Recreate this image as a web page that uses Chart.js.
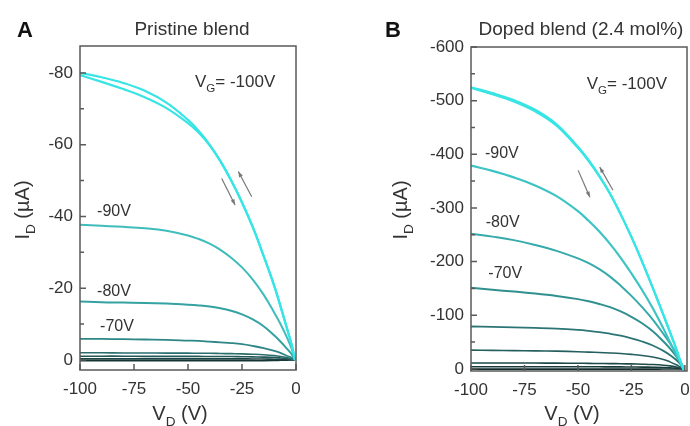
<!DOCTYPE html>
<html>
<head>
<meta charset="utf-8">
<script src="https://cdn.jsdelivr.net/npm/chart.js@4.4.1/dist/chart.umd.min.js"></script>
<style>
  body { margin: 0; background: #fff; }
  #wrap { position: relative; width: 690px; height: 426px; overflow: hidden; }
  #wrap canvas { position: absolute; top: 0; }
</style>
</head>
<body>
<div id="wrap">
  <canvas id="chartA" width="345" height="426" style="left:0"></canvas>
  <canvas id="chartB" width="345" height="426" style="left:345px"></canvas>
</div>
<script>
// =======================
// DATA
// =======================
const vdGrid = [-100, -90, -80, -70, -60, -50, -45, -40, -35, -30, -25, -20, -15, -10, -7, -4, -2, -0.5];
const xTicks = [-100, -75, -50, -25, 0];
const xTickLabels = ["-100", "-75", "-50", "-25", "0"];

// A - pristine blend (uA)
const yTicksA = [-80, -60, -40, -20, 0];
const yTickLabelsA = ["-80", "-60", "-40", "-20", "0"];
const yMinorA = [-70, -50, -30, -10];
const idA100fwd = [-80, -78.8, -77.2, -75, -71.7, -66.9, -63.8, -60, -55.4, -50, -43.9, -37, -29, -20.5, -14.6, -8.4, -4.2, 0];
const idA100rev = [-79.4, -77.5, -75.5, -73.2, -70.2, -66, -63.3, -59.8, -55.4, -50, -43.9, -37, -29, -20.5, -14.6, -8.4, -4.2, 0];
const idA90 = [-37.7, -37.4, -37.1, -36.7, -36, -34.7, -33.7, -32.4, -30.7, -28.5, -25.8, -22.4, -18.2, -13.1, -9.8, -6, -3.1, 0];
const idA80 = [-16.3, -16.1, -16, -15.9, -15.7, -15.4, -15.2, -14.9, -14.4, -13.7, -12.7, -11.3, -9.4, -6.8, -5, -3, -1.6, 0];
const idA70 = [-5.9, -5.85, -5.8, -5.7, -5.6, -5.4, -5.3, -5.1, -4.9, -4.7, -4.4, -3.9, -3.3, -2.5, -1.9, -1.1, -0.6, 0];
const idA60 = [-2, -2, -1.95, -1.95, -1.9, -1.9, -1.85, -1.85, -1.8, -1.75, -1.7, -1.6, -1.45, -1.2, -0.95, -0.6, -0.3, 0];
const idA50 = [-1.05, -1.05, -1.05, -1, -1, -1, -1, -0.95, -0.95, -0.95, -0.9, -0.85, -0.8, -0.7, -0.55, -0.35, -0.2, 0];
const idA40 = [-0.3, -0.3, -0.3, -0.3, -0.3, -0.3, -0.3, -0.3, -0.3, -0.3, -0.3, -0.28, -0.25, -0.2, -0.15, -0.1, -0.05, 0];
const idA30 = [0.2, 0.2, 0.2, 0.2, 0.2, 0.2, 0.2, 0.2, 0.2, 0.2, 0.2, 0.2, 0.2, 0.15, 0.1, 0.05, 0, 0];

// B - doped blend 2.4 mol% (uA)
const yTicksB = [-600, -500, -400, -300, -200, -100, 0];
const yTickLabelsB = ["-600", "-500", "-400", "-300", "-200", "-100", "0"];
const yMinorB = [-550, -450, -350, -250, -150, -50];
const idB100fwd = [-525, -514, -501, -483, -456, -414, -389, -360, -327, -288, -246, -200, -151, -100, -69, -37, -13, 3];
const idB100rev = [-524, -512, -498.5, -480, -453.5, -412, -387.5, -359, -326.5, -288, -246, -200, -151, -100, -69, -37, -13, 3];
const idB90 = [-379, -369, -357, -342, -322, -294, -276, -256, -233, -207, -178, -147, -113, -75, -50, -26, -11, 0];
const idB80 = [-252, -246.5, -240, -231, -220, -206, -197, -186, -172, -155, -136, -115, -92, -65, -48, -29, -14, 0];
const idB70 = [-151, -147.5, -144, -140.5, -136, -130, -126, -121, -115, -107, -97, -85, -70, -51, -38, -23, -11, 0];
const idB60 = [-79, -78.3, -77.5, -76.4, -75, -72.6, -70.8, -68.5, -65.5, -61.8, -57, -51, -43.5, -33.5, -26, -16.5, -8.5, 0];
const idB50 = [-35, -34.5, -34, -33.5, -33, -32, -31.2, -30.5, -29.6, -28.5, -27, -25, -22, -17.5, -13, -7.5, -3, 0];
const idB40 = [-11, -11, -11, -10.8, -10.6, -10.4, -10.2, -10, -9.8, -9.5, -9.2, -8.7, -8, -6.8, -5.5, -3.5, -1.5, 0];
const idB30 = [-4, -4, -4, -4, -3.9, -3.9, -3.8, -3.8, -3.7, -3.6, -3.5, -3.3, -3, -2.6, -2.1, -1.3, -0.6, 0];
const idB20 = [0.5, 0.5, 0.5, 0.5, 0.5, 0.5, 0.5, 0.5, 0.5, 0.5, 0.5, 0.5, 0.5, 0.4, 0.3, 0.2, 0.1, 0];

const FONT = "'Liberation Sans', Arial, Helvetica, sans-serif";

// =======================
// HELPERS
// =======================
function serie(ids, color, width) {
  return {
    data: vdGrid.map((v, i) => ({ x: v, y: ids[i] })),
    borderColor: color,
    borderWidth: width,
    pointRadius: 0,
    fill: false,
    tension: 0.4
  };
}

// text with optional subscript parts: [[text, isSub], ...]
function richText(ctx, parts, x, y, size, align, weight) {
  const f = s => `${weight || "normal"} ${s}px ${FONT}`;
  let w = 0;
  parts.forEach(([t, sub]) => { ctx.font = f(sub ? size * 0.68 : size); w += ctx.measureText(t).width; });
  let cx = align === "center" ? x - w / 2 : x;
  parts.forEach(([t, sub]) => {
    ctx.font = f(sub ? size * 0.68 : size);
    ctx.fillText(t, cx, sub ? y + size * 0.3 : y);
    cx += ctx.measureText(t).width;
  });
}

function arrow(ctx, x1, y1, x2, y2) {
  const a = Math.atan2(y2 - y1, x2 - x1);
  ctx.beginPath();
  ctx.moveTo(x1, y1);
  ctx.lineTo(x2, y2);
  ctx.stroke();
  ctx.beginPath();
  ctx.moveTo(x2, y2);
  ctx.lineTo(x2 - 6 * Math.cos(a - 0.35), y2 - 6 * Math.sin(a - 0.35));
  ctx.lineTo(x2 - 6 * Math.cos(a + 0.35), y2 - 6 * Math.sin(a + 0.35));
  ctx.closePath();
  ctx.fill();
}

// frame, inward ticks, labels, arrows
const decor = {
  id: "decor",
  afterDraw(chart, args, o) {
    const { ctx, chartArea: a, scales: { x, y } } = chart;
    ctx.save();
    ctx.strokeStyle = "#5a5a5a";
    ctx.lineWidth = 1.5;
    ctx.strokeRect(a.left, a.top, a.right - a.left, a.bottom - a.top);

    ctx.beginPath();
    xTicks.forEach(v => { const p = x.getPixelForValue(v); ctx.moveTo(p, a.bottom); ctx.lineTo(p, a.bottom - 6); });
    o.yTicks.forEach(v => { const p = y.getPixelForValue(v); ctx.moveTo(a.left, p); ctx.lineTo(a.left + 6, p); });
    o.yMinor.forEach(v => { const p = y.getPixelForValue(v); ctx.moveTo(a.left, p); ctx.lineTo(a.left + 4, p); });
    ctx.stroke();

    ctx.fillStyle = "#333";
    ctx.textBaseline = "alphabetic";
    ctx.textAlign = "left";
    // curve labels
    o.notes.forEach(n => {
      richText(ctx, n.parts, x.getPixelForValue(n.vd), y.getPixelForValue(n.id), n.size, "left");
    });

    // sweep arrows
    ctx.strokeStyle = "#777";
    ctx.fillStyle = "#777";
    ctx.lineWidth = 1.2;
    o.arrows.forEach(([v1, i1, v2, i2]) => {
      arrow(ctx, x.getPixelForValue(v1), y.getPixelForValue(i1), x.getPixelForValue(v2), y.getPixelForValue(i2));
    });

    // titles
    ctx.fillStyle = "#111";
    richText(ctx, [[o.letter]], o.letterX, 37, 22, "left", "bold");
    ctx.fillStyle = "#333";
    richText(ctx, [[o.title]], o.titleX, 35, 19, "center");
    richText(ctx, [["V"], ["D", true], [" (V)"]], o.xTitleX, 420, 20, "center");
    ctx.translate(o.yTitleX, 210);
    ctx.rotate(-Math.PI / 2);
    richText(ctx, [["I"], ["D", true], [" (\u00b5A)"]], 0, 0, 20, "center");
    ctx.restore();
  }
};

function makePanel(id, p) {
  return new Chart(document.getElementById(id), {
    type: "line",
    data: { datasets: p.datasets },
    options: {
      responsive: false,
      animation: false,
      events: [],
      layout: { padding: p.padding },
      plugins: {
        legend: { display: false },
        tooltip: { enabled: false },
        decor: p.decor
      },
      scales: {
        x: {
          type: "linear",
          min: -100,
          max: p.xMax,
          afterBuildTicks: s => { s.ticks = xTicks.map(v => ({ value: v })); },
          afterFit: s => { s.height = p.xHeight; s.paddingLeft = 0; s.paddingRight = 0; },
          grid: { display: false, drawTicks: false },
          border: { display: false },
          ticks: { padding: 9, color: "#333", font: { family: FONT, size: 17 }, maxRotation: 0, callback: (v, i) => xTickLabels[i] }
        },
        y: {
          type: "linear",
          reverse: true,
          min: p.yMin,
          max: p.yMax,
          afterBuildTicks: s => { s.ticks = p.decor.yTicks.map(v => ({ value: v })); },
          afterFit: s => { s.width = p.yWidth; s.paddingTop = 0; s.paddingBottom = 0; },
          grid: { display: false, drawTicks: false },
          border: { display: false },
          ticks: { padding: 7, color: "#333", font: { family: FONT, size: 17 }, callback: (v, i) => p.yLabels[i] }
        }
      }
    },
    plugins: [decor]
  });
}

// =======================
// PANEL A
// =======================
makePanel("chartA", {
  padding: { left: 0, right: 49, top: 46, bottom: 0 },
  xMax: 0, xHeight: 56, yWidth: 80,
  yMin: -87.5, yMax: 2.8,
  yLabels: yTickLabelsA,
  datasets: [
    serie(idA100fwd, "#38e4e4", 2.2),
    serie(idA100rev, "#38e4e4", 2.2),
    serie(idA90, "#3fbcbc", 2),
    serie(idA80, "#35a2a2", 2),
    serie(idA70, "#2e8686", 1.8),
    serie(idA60, "#2a6e6e", 1.6),
    serie(idA50, "#235858", 1.6),
    serie(idA40, "#1c4444", 1.6),
    serie(idA30, "#163535", 1.6)
  ],
  decor: {
    yTicks: yTicksA, yMinor: yMinorA,
    letter: "A", letterX: 17,
    title: "Pristine blend", titleX: 192,
    xTitleX: 180, yTitleX: 29,
    notes: [
      { parts: [["V"], ["G", true], ["= -100V"]], vd: -46.8, id: -76.1, size: 17 },
      { parts: [["-90V"]], vd: -92.1, id: -40.1, size: 16 },
      { parts: [["-80V"]], vd: -92.1, id: -17.8, size: 16 },
      { parts: [["-70V"]], vd: -90.7, id: -8.1, size: 16 }
    ],
    arrows: [[-34.4, -50.6, -28.2, -43.2], [-20.5, -45.5, -26.7, -52.5]]
  }
});

// =======================
// PANEL B
// =======================
makePanel("chartB", {
  padding: { left: 0, right: 3, top: 47, bottom: 0 },
  xMax: 1, xHeight: 55, yWidth: 126,
  yMin: -600, yMax: 4,
  yLabels: yTickLabelsB,
  datasets: [
    serie(idB100fwd, "#38e4e4", 2.2),
    serie(idB100rev, "#38e4e4", 2.2),
    serie(idB90, "#3cc4c4", 2.2),
    serie(idB80, "#36aaaa", 2),
    serie(idB70, "#309090", 2),
    serie(idB60, "#2b7575", 1.8),
    serie(idB50, "#255e5e", 1.6),
    serie(idB40, "#1e4a4a", 1.6),
    serie(idB30, "#183a3a", 1.6),
    serie(idB20, "#132e2e", 1.6)
  ],
  decor: {
    yTicks: yTicksB, yMinor: yMinorB,
    letter: "B", letterX: 40,
    title: "Doped blend (2.4 mol%)", titleX: 236,
    xTitleX: 227, yTitleX: 62,
    notes: [
      { parts: [["V"], ["G", true], ["= -100V"]], vd: -45.9, id: -522, size: 17 },
      { parts: [["-90V"]], vd: -93.5, id: -394, size: 16 },
      { parts: [["-80V"]], vd: -93.1, id: -264.5, size: 16 },
      { parts: [["-70V"]], vd: -91.9, id: -168.6, size: 16 }
    ],
    arrows: [[-49.9, -370, -44.4, -320], [-33.6, -333, -39.8, -376]]
  }
});
</script>
</body>
</html>
